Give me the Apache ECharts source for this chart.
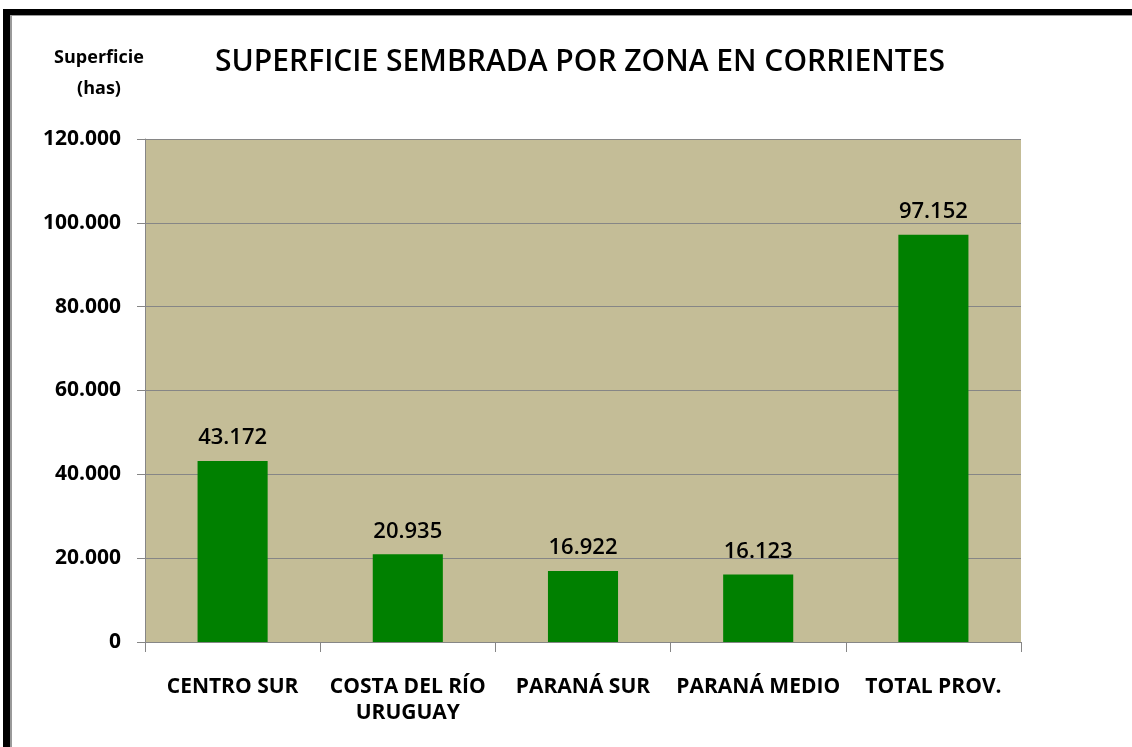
<!DOCTYPE html>
<html lang="es">
<head>
    <meta charset="UTF-8">
    <title>Superficie sembrada por zona en Corrientes</title>
    <style>
        html, body { margin: 0; padding: 0; background: #fff; }
        #main { width: 1132px; height: 747px; }
    </style>
</head>
<body>
<div id="main"></div>
<script src="https://cdn.jsdelivr.net/npm/echarts@6/dist/echarts.min.js"></script>
<script>
    // datos
    var zonas = ['CENTRO SUR', 'COSTA DEL RÍO\nURUGUAY', 'PARANÁ SUR', 'PARANÁ MEDIO', 'TOTAL PROV.'];
    var superficie = [43172, 20935, 16922, 16123, 97152];
    var yTicks = [0, 20000, 40000, 60000, 80000, 100000, 120000];

    var fuente = '"Open Sans", "Noto Sans", sans-serif';

    // formato con punto de miles
    function miles(v) {
        return String(v).replace(/\B(?=(\d{3})+(?!\d))/g, '.');
    }

    var myChart = echarts.init(document.getElementById('main'));
    myChart.setOption({
        backgroundColor: '#fff',
        animation: false,
        title: {
            text: 'SUPERFICIE SEMBRADA POR ZONA EN CORRIENTES',
            left: 575,
            top: 42,
            textAlign: 'center',
            textStyle: { fontFamily: fuente, fontSize: 30, fontWeight: 600, color: '#000' }
        },
        graphic: [
            // marco negro arriba e izquierda
            { type: 'rect', shape: { x: 3, y: 9, width: 7, height: 740 }, style: { fill: '#000' } },
            { type: 'rect', shape: { x: 3, y: 9, width: 1130, height: 6 }, style: { fill: '#000' } },
            { type: 'rect', shape: { x: 10, y: 15, width: 2, height: 740 }, style: { fill: '#9a9a9a' } },
            { type: 'rect', shape: { x: 10, y: 15, width: 1122, height: 1 }, style: { fill: '#9a9a9a' } },
            {
                type: 'text', x: 99, y: 42,
                style: {
                    text: 'Superficie\n(has)', fontFamily: fuente, fontSize: 18, fontWeight: 'bold',
                    fill: '#000', align: 'center', lineHeight: 31
                }
            }
        ],
        grid: { left: 145, right: 111, top: 139, bottom: 105 },
        xAxis: {
            type: 'category',
            data: zonas,
            axisLine: { lineStyle: { color: '#868686', width: 1 } },
            axisTick: { show: true, length: 10, lineStyle: { color: '#868686' } },
            axisLabel: {
                interval: 0, margin: 32, color: '#000', fontFamily: fuente,
                fontSize: 21, fontWeight: 'bold', lineHeight: 26
            }
        },
        yAxis: {
            type: 'value',
            min: yTicks[0],
            max: yTicks[yTicks.length - 1],
            interval: 20000,
            axisLine: { show: true, lineStyle: { color: '#868686' } },
            axisTick: { show: true, length: 8, lineStyle: { color: '#868686' } },
            splitLine: { lineStyle: { color: '#868686', width: 1 } },
            splitArea: { show: true, areaStyle: { color: ['#c4bd97', '#c4bd97'] } },
            axisLabel: {
                margin: 24, color: '#000', fontFamily: fuente, fontSize: 21, fontWeight: 'bold',
                formatter: function (v) { return miles(v); }
            }
        },
        series: [{
            type: 'bar',
            data: superficie,
            barWidth: '40%',
            itemStyle: { color: '#008000' },
            label: {
                show: true, position: 'top', distance: 12, color: '#000',
                fontFamily: fuente, fontSize: 22, fontWeight: 600,
                formatter: function (p) { return miles(p.value); }
            }
        }]
    });
</script>
</body>
</html>
